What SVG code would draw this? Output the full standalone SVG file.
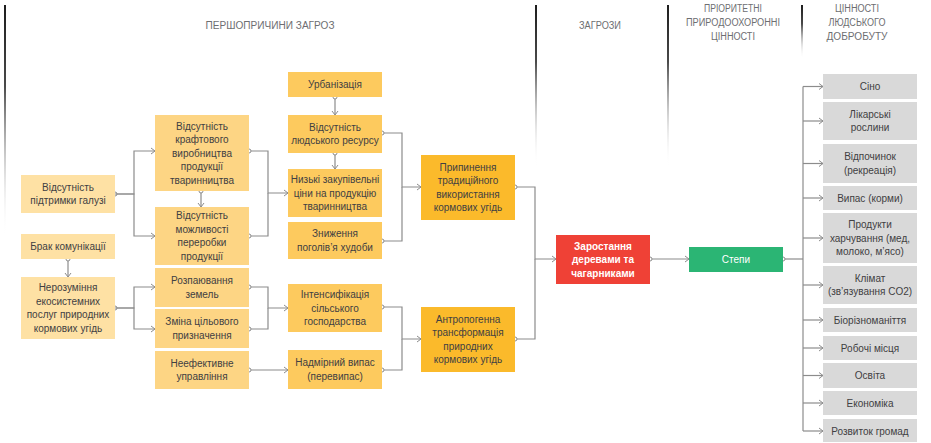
<svg xmlns="http://www.w3.org/2000/svg" width="931" height="443" viewBox="0 0 931 443">
<defs>
<style>
.c1{fill:#FEE1A4}.c2{fill:#FDD584}.c3{fill:#FDCA5E}.c4{fill:#FBBA2B}
.gr{fill:#D9D9D9}.red{fill:#EF4136}.grn{fill:#2BB574}
text{font-family:"Liberation Sans","DejaVu Sans",sans-serif;font-size:10px;fill:#414042;text-anchor:middle}
.w{fill:#ffffff}.b{font-weight:bold}
.hd{font-size:10px;fill:#6d6e71}
.cn path{fill:none;stroke:#8c8c8c;stroke-width:1.2}
</style>
<linearGradient id="gL" x1="0" y1="0" x2="0" y2="1"><stop offset="0" stop-color="#1d1d1d"/><stop offset="0.35" stop-color="#4a4a4a"/><stop offset="1" stop-color="#ffffff" stop-opacity="0"/></linearGradient>
<marker id="arr" markerWidth="6" markerHeight="8" refX="5" refY="4" orient="auto" markerUnits="userSpaceOnUse"><path d="M1,1 L5,4 L1,7" fill="none" stroke="#8c8c8c" stroke-width="1"/></marker>
<marker id="dot" markerWidth="6" markerHeight="6" refX="3" refY="3" markerUnits="userSpaceOnUse"><circle cx="3" cy="3" r="2" fill="#fff" stroke="#8c8c8c" stroke-width="1"/></marker>
</defs>
<rect width="931" height="443" fill="#fff"/>
<g id="headers">
<rect x="4" y="5" width="2" height="232" fill="url(#gL)"/>
<rect x="535" y="5" width="2" height="162" fill="url(#gL)"/>
<rect x="667" y="5" width="2" height="162" fill="url(#gL)"/>
<rect x="801" y="5" width="2" height="54" fill="url(#gL)"/>
<text class="hd" x="270" y="29" textLength="129" lengthAdjust="spacingAndGlyphs">ПЕРШОПРИЧИНИ ЗАГРОЗ</text>
<text class="hd" x="600" y="29" textLength="42" lengthAdjust="spacingAndGlyphs">ЗАГРОЗИ</text>
<text class="hd" x="733" y="12" textLength="58" lengthAdjust="spacingAndGlyphs">ПРІОРИТЕТНІ</text>
<text class="hd" x="733" y="26" textLength="94" lengthAdjust="spacingAndGlyphs">ПРИРОДООХОРОННІ</text>
<text class="hd" x="733" y="40" textLength="44" lengthAdjust="spacingAndGlyphs">ЦІННОСТІ</text>
<text class="hd" x="857" y="12" textLength="44" lengthAdjust="spacingAndGlyphs">ЦІННОСТІ</text>
<text class="hd" x="857" y="26" textLength="57" lengthAdjust="spacingAndGlyphs">ЛЮДСЬКОГО</text>
<text class="hd" x="857" y="40" textLength="61" lengthAdjust="spacingAndGlyphs">ДОБРОБУТУ</text>
</g>
<g class="cn" id="connectors">
<path d="M115,194 H134 V151 H155" marker-start="url(#dot)" marker-end="url(#arr)"/>
<path d="M115,194 H134 V236 H155" marker-end="url(#arr)"/>
<path d="M201,191 V207" marker-start="url(#dot)" marker-end="url(#arr)"/>
<path d="M68,259 V277" marker-start="url(#dot)" marker-end="url(#arr)"/>
<path d="M115,308 H134 V287 H155" marker-start="url(#dot)" marker-end="url(#arr)"/>
<path d="M115,308 H134 V329 H155" marker-end="url(#arr)"/>
<path d="M249,151 H268 V193 H288" marker-start="url(#dot)" marker-end="url(#arr)"/>
<path d="M249,236 H268 V193" marker-start="url(#dot)"/>
<path d="M249,287 H268 V308 H288" marker-start="url(#dot)" marker-end="url(#arr)"/>
<path d="M249,329 H268 V308" marker-start="url(#dot)"/>
<path d="M249,370 H288" marker-start="url(#dot)" marker-end="url(#arr)"/>
<path d="M335,97 V115" marker-start="url(#dot)" marker-end="url(#arr)"/>
<path d="M335,153 V169" marker-start="url(#dot)" marker-end="url(#arr)"/>
<path d="M382,133 H402 V187 H421" marker-start="url(#dot)" marker-end="url(#arr)"/>
<path d="M382,241 H402 V187" marker-start="url(#dot)"/>
<path d="M382,307 H402 V339 H421" marker-start="url(#dot)" marker-end="url(#arr)"/>
<path d="M382,370 H402 V339" marker-start="url(#dot)"/>
<path d="M515,187 H535 V259 H556" marker-start="url(#dot)" marker-end="url(#arr)"/>
<path d="M515,339 H535 V259" marker-start="url(#dot)"/>
<path d="M650,259 H689" marker-start="url(#dot)" marker-end="url(#arr)"/>
<path d="M783,259 H803" marker-start="url(#dot)"/>
<path d="M803,86.5 V431"/>
<path d="M803,86.5 H823" marker-end="url(#arr)"/>
<path d="M803,121 H823" marker-end="url(#arr)"/>
<path d="M803,163.5 H823" marker-end="url(#arr)"/>
<path d="M803,198 H823" marker-end="url(#arr)"/>
<path d="M803,238 H823" marker-end="url(#arr)"/>
<path d="M803,285 H823" marker-end="url(#arr)"/>
<path d="M803,320 H823" marker-end="url(#arr)"/>
<path d="M803,348 H823" marker-end="url(#arr)"/>
<path d="M803,375.5 H823" marker-end="url(#arr)"/>
<path d="M803,403 H823" marker-end="url(#arr)"/>
<path d="M803,431 H823" marker-end="url(#arr)"/>
</g>
<g id="n-pidtrymky"><rect class="c1" x="21" y="175" width="94" height="38"/><text x="68" y="190.8"><tspan x="68">Відсутність</tspan><tspan x="68" dy="13.5">підтримки галузі</tspan></text></g>
<g id="n-brak"><rect class="c1" x="21" y="234" width="94" height="25"/><text x="68" y="250">Брак комунікації</text></g>
<g id="n-nerozuminnia"><rect class="c1" x="21" y="277" width="94" height="62"/><text x="68" y="291.3"><tspan x="68">Нерозуміння</tspan><tspan x="68" dy="13.5">екосистемних</tspan><tspan x="68" dy="13.5">послуг природних</tspan><tspan x="68" dy="13.5">кормових угідь</tspan></text></g>
<g id="n-kraftove"><rect class="c2" x="155" y="115" width="94" height="76"/><text x="202" y="129.5"><tspan x="202">Відсутність</tspan><tspan x="202" dy="13.5">крафтового</tspan><tspan x="202" dy="13.5">виробництва</tspan><tspan x="202" dy="13.5">продукції</tspan><tspan x="202" dy="13.5">тваринництва</tspan></text></g>
<g id="n-pererobka"><rect class="c2" x="155" y="207" width="94" height="58"/><text x="202" y="219.3"><tspan x="202">Відсутність</tspan><tspan x="202" dy="13.5">можливості</tspan><tspan x="202" dy="13.5">переробки</tspan><tspan x="202" dy="13.5">продукції</tspan></text></g>
<g id="n-rozpaiuvannia"><rect class="c2" x="155" y="268" width="94" height="39"/><text x="202" y="284.3"><tspan x="202">Розпаювання</tspan><tspan x="202" dy="13.5">земель</tspan></text></g>
<g id="n-zmina"><rect class="c2" x="155" y="309" width="94" height="39"/><text x="202" y="325.3"><tspan x="202">Зміна цільового</tspan><tspan x="202" dy="13.5">призначення</tspan></text></g>
<g id="n-upravlinnia"><rect class="c2" x="155" y="351" width="94" height="38"/><text x="202" y="366.8"><tspan x="202">Неефективне</tspan><tspan x="202" dy="13.5">управління</tspan></text></g>
<g id="n-urbanizatsiia"><rect class="c3" x="288" y="72" width="94" height="25"/><text x="335" y="88">Урбанізація</text></g>
<g id="n-resurs"><rect class="c3" x="288" y="115" width="94" height="38"/><text x="335" y="130.8"><tspan x="335">Відсутність</tspan><tspan x="335" dy="13.5">людського ресурсу</tspan></text></g>
<g id="n-tsiny"><rect class="c3" x="288" y="169" width="94" height="48"/><text x="335" y="183"><tspan x="335">Низькі закупівельні</tspan><tspan x="335" dy="13.5">ціни на продукцію</tspan><tspan x="335" dy="13.5">тваринництва</tspan></text></g>
<g id="n-pogolivia"><rect class="c3" x="288" y="222" width="94" height="37"/><text x="335" y="237.3"><tspan x="335">Зниження</tspan><tspan x="335" dy="13.5">поголів’я худоби</tspan></text></g>
<g id="n-intensyfikatsiia"><rect class="c3" x="288" y="284" width="94" height="48"/><text x="335" y="298"><tspan x="335">Інтенсифікація</tspan><tspan x="335" dy="13.5">сільського</tspan><tspan x="335" dy="13.5">господарства</tspan></text></g>
<g id="n-perevypas"><rect class="c3" x="288" y="350" width="94" height="39"/><text x="335" y="366.3"><tspan x="335">Надмірний випас</tspan><tspan x="335" dy="13.5">(перевипас)</tspan></text></g>
<g id="n-prypynennia"><rect class="c4" x="421" y="155" width="94" height="65"/><text x="468" y="170.8"><tspan x="468">Припинення</tspan><tspan x="468" dy="13.5">традиційного</tspan><tspan x="468" dy="13.5">використання</tspan><tspan x="468" dy="13.5">кормових угідь</tspan></text></g>
<g id="n-antropohenna"><rect class="c4" x="421" y="307" width="94" height="65"/><text x="468" y="322.8"><tspan x="468">Антропогенна</tspan><tspan x="468" dy="13.5">трансформація</tspan><tspan x="468" dy="13.5">природних</tspan><tspan x="468" dy="13.5">кормових угідь</tspan></text></g>
<g id="n-zarostannia"><rect class="red" x="556" y="235" width="94" height="49"/><text class="w b" x="603" y="249.5"><tspan x="603">Заростання</tspan><tspan x="603" dy="13.5">деревами та</tspan><tspan x="603" dy="13.5">чагарниками</tspan></text></g>
<g id="n-stepy"><rect class="grn" x="689" y="247" width="94" height="25"/><text class="w" x="736" y="263">Степи</text></g>
<g id="n-sino"><rect class="gr" x="823" y="74" width="94" height="25"/><text x="870" y="90">Сіно</text></g>
<g id="n-likarski"><rect class="gr" x="823" y="102" width="94" height="38"/><text x="870" y="117.8"><tspan x="870">Лікарські</tspan><tspan x="870" dy="13.5">рослини</tspan></text></g>
<g id="n-vidpochynok"><rect class="gr" x="823" y="144" width="94" height="39"/><text x="870" y="160.3"><tspan x="870">Відпочинок</tspan><tspan x="870" dy="13.5">(рекреація)</tspan></text></g>
<g id="n-vypas"><rect class="gr" x="823" y="186" width="94" height="24"/><text x="870" y="201.5">Випас (корми)</text></g>
<g id="n-produkty"><rect class="gr" x="823" y="213" width="94" height="50"/><text x="870" y="228"><tspan x="870">Продукти</tspan><tspan x="870" dy="13.5">харчування (мед,</tspan><tspan x="870" dy="13.5">молоко, м’ясо)</tspan></text></g>
<g id="n-klimat"><rect class="gr" x="823" y="266" width="94" height="38"/><text x="870" y="281.8"><tspan x="870">Клімат</tspan><tspan x="870" dy="13.5">(зв’язування CO2)</tspan></text></g>
<g id="n-bioriznomanittia"><rect class="gr" x="823" y="308" width="94" height="24"/><text x="870" y="323.5">Біорізноманіття</text></g>
<g id="n-robochi"><rect class="gr" x="823" y="336" width="94" height="24"/><text x="870" y="351.5">Робочі місця</text></g>
<g id="n-osvita"><rect class="gr" x="823" y="363" width="94" height="25"/><text x="870" y="379">Освіта</text></g>
<g id="n-ekonomika"><rect class="gr" x="823" y="391" width="94" height="24"/><text x="870" y="406.5">Економіка</text></g>
<g id="n-rozvytok"><rect class="gr" x="823" y="419" width="94" height="23"/><text x="870" y="434.5">Розвиток громад</text></g>
</svg>
